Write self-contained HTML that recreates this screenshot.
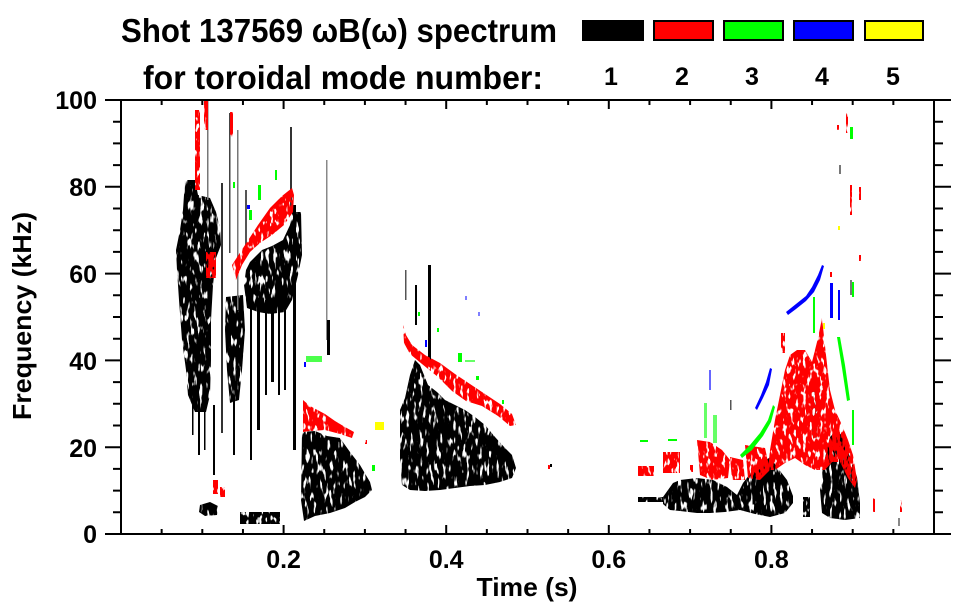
<!DOCTYPE html>
<html>
<head>
<meta charset="utf-8">
<style>
html,body{margin:0;padding:0;background:#fff;}
svg{display:block;}
text{font-family:"Liberation Sans",Arial,sans-serif;font-weight:bold;fill:#000;}
</style>
</head>
<body>
<svg width="963" height="615" viewBox="0 0 963 615" xmlns="http://www.w3.org/2000/svg">
<defs>
<filter id="sp" filterUnits="userSpaceOnUse" x="121" y="100" width="813" height="434">
<feTurbulence type="fractalNoise" baseFrequency="0.3 0.08" numOctaves="2" seed="7" result="n"/>
<feColorMatrix in="n" type="matrix" values="0 0 0 0 0  0 0 0 0 0  0 0 0 0 0  10 0 0 0 -3.2" result="m"/>
<feComposite in="SourceGraphic" in2="m" operator="in"/>
</filter>
<filter id="sp2" filterUnits="userSpaceOnUse" x="121" y="100" width="813" height="434">
<feTurbulence type="fractalNoise" baseFrequency="0.3 0.12" numOctaves="2" seed="3" result="n"/>
<feColorMatrix in="n" type="matrix" values="0 0 0 0 0  0 0 0 0 0  0 0 0 0 0  10 0 0 0 -3.3" result="m"/>
<feComposite in="SourceGraphic" in2="m" operator="in"/>
</filter>
<clipPath id="plot"><rect x="121" y="100" width="813" height="434"/></clipPath>
</defs>
<rect width="963" height="615" fill="#fff"/>

<!-- Title & legend -->
<text x="121" y="42" font-size="33" textLength="436" lengthAdjust="spacingAndGlyphs">Shot 137569 ωB(ω) spectrum</text>
<text x="143" y="89" font-size="33" textLength="400" lengthAdjust="spacingAndGlyphs">for toroidal mode number:</text>
<rect x="582" y="20" width="62" height="21" fill="#000"/>
<rect x="654" y="21" width="59" height="19" fill="#f00" stroke="#000" stroke-width="2"/>
<rect x="724" y="21" width="59" height="19" fill="#0f0" stroke="#000" stroke-width="2"/>
<rect x="794" y="21" width="59" height="19" fill="#00f" stroke="#000" stroke-width="2"/>
<rect x="865" y="21" width="58" height="19" fill="#ff0" stroke="#000" stroke-width="2"/>
<g font-size="25" text-anchor="middle">
<text x="611" y="85">1</text>
<text x="682" y="85">2</text>
<text x="752" y="85">3</text>
<text x="822" y="85">4</text>
<text x="893" y="85">5</text>
</g>

<!-- DATA -->
<g clip-path="url(#plot)">
<g filter="url(#sp)" fill="#000">
<polygon points="185,180 195,180 198,195 210,198 216,212 220,228 221,245 216,258 213,285 211,320 211,360 210,395 206,412 195,412 188,395 186,370 182,340 179,300 177,270 176,250 180,230 183,210 184,195"/>
<polygon points="226,297 243,295 245,330 242,370 239,400 230,403 227,370 225,330"/>
<polygon points="250,262 262,250 272,246 283,240 290,225 292,212 301,212 302,255 298,275 292,300 285,312 270,314 258,312 247,308 244,285 246,270"/>
<polygon points="302,432 315,431 327,436 340,438 350,452 360,465 370,482 372,490 365,497 355,502 345,508 330,513 315,516 304,521 301,500"/>
<polygon points="400,410 405,398 410,375 415,360 420,365 428,385 437,392 445,400 455,405 465,410 475,417 485,425 495,437 505,448 512,455 516,468 512,478 500,482 485,485 470,486 455,488 440,490 425,491 410,490 402,485 400,460"/>
<polygon points="663,497 673,483 680,480 697,478 713,480 727,487 737,495 743,483 753,470 763,463 770,457 777,467 787,480 793,496 793,503 785,513 770,517 755,514 740,510 725,512 710,513 697,513 680,511 670,510 663,504"/>
<polygon points="823,467 828,445 830,437 837,430 843,437 850,457 857,477 860,503 860,518 845,520 830,518 822,513 820,490"/>
<polygon points="200,505 210,502 218,506 217,515 205,516 199,512"/>
</g>
<g filter="url(#sp2)" fill="#000">
<rect x="240" y="512" width="40" height="12"/>
<rect x="812" y="383" width="5" height="55"/>
<rect x="803" y="497" width="7" height="20"/>
<rect x="638" y="497" width="25" height="5"/>
</g>
<g fill="#000">
<rect x="221" y="183" width="2" height="250" fill="#333"/>
<rect x="213" y="405" width="2" height="70"/>
<rect x="198" y="405" width="2" height="50"/>
<rect x="204" y="405" width="1.5" height="45"/>
<rect x="192" y="405" width="1.5" height="30"/>
<rect x="237" y="130" width="1.5" height="180" fill="#777"/>
<rect x="229" y="113" width="1.5" height="140" fill="#444"/>
<rect x="290" y="127" width="2" height="85" fill="#333"/>
<rect x="250" y="300" width="2" height="160"/>
<rect x="257" y="300" width="3" height="130"/>
<rect x="265" y="300" width="2" height="95"/>
<rect x="271" y="300" width="3" height="82"/>
<rect x="278" y="300" width="2" height="95"/>
<rect x="284" y="300" width="2" height="90"/>
<rect x="293" y="205" width="3" height="245"/>
<rect x="326" y="160" width="1.5" height="180" fill="#888"/>
<rect x="327" y="320" width="3" height="35"/>
<rect x="233" y="395" width="2" height="60"/>
<rect x="207" y="100" width="1.5" height="100" fill="#777"/>
<rect x="428" y="265" width="3" height="100"/>
<rect x="415" y="285" width="2" height="40"/>
<rect x="405" y="270" width="1.5" height="30" fill="#555"/>
<rect x="245" y="190" width="2" height="60" fill="#555"/>
<rect x="898" y="518" width="2" height="8" fill="#888"/>
<rect x="839" y="165" width="2" height="9" fill="#777"/>
<rect x="850" y="280" width="2" height="15" fill="#777"/>
<rect x="550" y="464" width="2" height="3"/>
<rect x="730" y="400" width="1.5" height="10" fill="#555"/>
</g>

<g filter="url(#sp2)" fill="#f00">
<polygon points="232,265 245,245 258,225 270,208 282,196 292,188 294,195 293,212 284,225 272,235 260,243 250,252 242,265 236,280"/>
<rect x="195" y="110" width="5" height="80"/>
<rect x="204" y="100" width="4" height="30"/>
<rect x="230" y="112" width="3" height="25"/>
<rect x="206" y="252" width="10" height="26"/>
<rect x="213" y="480" width="5" height="14"/>
<rect x="220" y="487" width="5" height="10"/>
<polygon points="303,400 310,406 325,414 335,421 345,427 354,432 352,438 340,434 325,430 310,431 303,432"/>
<polygon points="403,325 406,335 412,345 425,355 440,363 455,374 470,384 485,394 500,404 512,414 516,425 510,426 498,416 482,406 466,401 452,391 438,377 422,364 410,354 404,343"/>
<rect x="638" y="466" width="16" height="10"/>
<rect x="663" y="452" width="17" height="21"/>
<rect x="690" y="465" width="3" height="7"/>
<polygon points="697,440 710,442 722,450 730,460 728,478 712,480 700,475"/>
<polygon points="730,457 743,460 745,480 732,480"/>
<polygon points="745,445 765,448 770,470 760,480 748,478"/>
<polygon points="770,450 775,420 780,395 785,370 790,355 797,350 805,350 812,362 818,338 822,318 826,355 830,390 835,410 842,425 848,440 853,455 857,480 855,488 848,478 840,462 832,462 825,470 815,470 805,465 795,458 785,463 775,470 768,470"/>
<rect x="781" y="333" width="4" height="20"/>
<rect x="873" y="497" width="2" height="15"/>
<rect x="900" y="500" width="2" height="12"/>
<rect x="846" y="113" width="2" height="20"/>
<rect x="837" y="125" width="2" height="5"/>
<rect x="850" y="185" width="2" height="30"/>
<rect x="859" y="187" width="2" height="13"/>
<rect x="859" y="255" width="2" height="6"/>
<rect x="830" y="272" width="2" height="5"/>
<rect x="548" y="465" width="2" height="4"/>
<rect x="365" y="440" width="2" height="4"/>
</g>

<g fill="#0f0">
<rect x="258" y="185" width="3" height="15"/>
<rect x="249" y="210" width="3" height="10"/>
<rect x="275" y="170" width="2" height="10"/>
<rect x="233" y="182" width="2" height="6"/>
<rect x="306" y="356" width="16" height="6" opacity="0.7"/>
<rect x="372" y="465" width="3" height="6"/>
<rect x="458" y="353" width="4" height="9"/>
<rect x="476" y="376" width="3" height="4"/>
<rect x="437" y="328" width="2" height="4"/>
<rect x="418" y="312" width="2" height="4"/>
<rect x="465" y="360" width="10" height="2" opacity="0.6"/>
<rect x="640" y="440" width="8" height="2"/>
<rect x="668" y="439" width="9" height="2"/>
<rect x="704" y="403" width="3" height="35" opacity="0.6"/>
<rect x="713" y="415" width="4" height="28" opacity="0.6"/>
<polygon points="740,455 750,445 760,433 768,420 773,405 775,407 771,422 763,436 752,450 742,458"/>
<rect x="813" y="297" width="2" height="36"/>
<polygon points="837,337 840,337 845,365 850,400 847,401 842,368"/>
<rect x="852" y="282" width="2" height="15"/>
<rect x="852" y="410" width="2" height="35"/>
<rect x="850" y="127" width="3" height="12"/>
<rect x="502" y="400" width="2" height="4"/>
</g>

<g fill="#00f">
<polygon points="786,312 796,304 806,296 812,287 818,275 822,265 824,266 820,280 814,292 806,301 796,309 788,315"/>
<polygon points="755,408 761,395 766,382 770,368 772,369 769,385 763,398 757,410"/>
<rect x="830" y="283" width="3" height="35"/>
<rect x="838" y="290" width="2" height="30"/>
<rect x="709" y="370" width="2" height="20" opacity="0.6"/>
<rect x="247" y="205" width="3" height="4"/>
<rect x="425" y="340" width="2" height="7"/>
<rect x="465" y="296" width="2" height="4" opacity="0.5"/>
<rect x="478" y="312" width="2" height="4" opacity="0.5"/>
<rect x="304" y="362" width="2" height="5"/>
</g>

<g fill="#ff0">
<rect x="375" y="422" width="9" height="8"/>
<rect x="838" y="226" width="2" height="4"/>
<rect x="823" y="323" width="2" height="6"/>
</g>
</g>

<!-- AXES -->
<g stroke="#000" stroke-width="2" fill="none">
<line x1="105" y1="100" x2="951" y2="100"/>
<line x1="105" y1="534" x2="951" y2="534"/>
<line x1="121" y1="100" x2="121" y2="534"/>
<line x1="934" y1="100" x2="934" y2="534"/>
<path d="M105 186.8H121M105 273.6H121M105 360.4H121M105 447.2H121
         M934 186.8H951M934 273.6H951M934 360.4H951M934 447.2H951"/>
<path d="M113 512.3H121M113 490.6H121M113 468.9H121M113 425.5H121M113 403.8H121M113 382.1H121M113 338.7H121M113 317H121M113 295.3H121M113 251.9H121M113 230.2H121M113 208.5H121M113 165.1H121M113 143.4H121M113 121.7H121
         M934 512.3H943M934 490.6H943M934 468.9H943M934 425.5H943M934 403.8H943M934 382.1H943M934 338.7H943M934 317H943M934 295.3H943M934 251.9H943M934 230.2H943M934 208.5H943M934 165.1H943M934 143.4H943M934 121.7H943"/>
<path d="M283.6 534V525M446.2 534V525M608.8 534V525M771.4 534V525
         M283.6 100V109M446.2 100V109M608.8 100V109M771.4 100V109"/>
<path d="M161.65 534V529M202.3 534V529M242.95 534V529M324.25 534V529M364.9 534V529M405.55 534V529M486.85 534V529M527.5 534V529M568.15 534V529M649.45 534V529M690.1 534V529M730.75 534V529M812.05 534V529M852.7 534V529M893.35 534V529
         M161.65 100V105M202.3 100V105M242.95 100V105M324.25 100V105M364.9 100V105M405.55 100V105M486.85 100V105M527.5 100V105M568.15 100V105M649.45 100V105M690.1 100V105M730.75 100V105M812.05 100V105M852.7 100V105M893.35 100V105"/>
</g>

<g font-size="25" text-anchor="end">
<text x="97" y="109">100</text>
<text x="97" y="196">80</text>
<text x="97" y="283">60</text>
<text x="97" y="370">40</text>
<text x="97" y="457">20</text>
<text x="97" y="543">0</text>
</g>
<g font-size="25" text-anchor="middle">
<text x="283.6" y="568">0.2</text>
<text x="446.2" y="568">0.4</text>
<text x="608.8" y="568">0.6</text>
<text x="771.4" y="568">0.8</text>
</g>
<text x="527" y="596" font-size="26" text-anchor="middle" textLength="101" lengthAdjust="spacingAndGlyphs">Time (s)</text>
<text transform="translate(31,316) rotate(-90)" x="0" y="0" font-size="26" text-anchor="middle" textLength="208" lengthAdjust="spacingAndGlyphs">Frequency (kHz)</text>
</svg>
</body>
</html>
